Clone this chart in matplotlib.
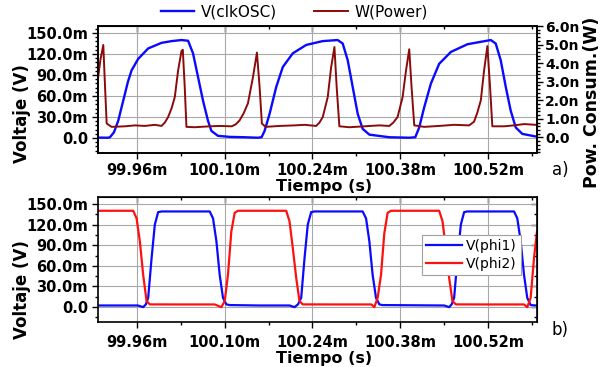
import matplotlib
matplotlib.use('Agg')
import matplotlib.pyplot as plt
from matplotlib.ticker import MultipleLocator

plt.rcParams['font.family'] = 'DejaVu Sans'

# tiempo en ms (las etiquetas llevan el sufijo "m"), voltajes en mV, potencia en nW

# --- a) V(clkOSC) y W(Power)
t_clk = [99.8974, 99.9138, 99.9170, 99.9234, 99.9302, 99.9345, 99.9409, 99.9456,
         99.9515, 99.9620, 99.9780, 99.9993, 100.0156, 100.0311, 100.0416, 100.0495,
         100.0575, 100.0655, 100.0734, 100.0788, 100.0893, 100.1079, 100.1318, 100.1525,
         100.1588, 100.1636, 100.1716, 100.1822, 100.1927, 100.2086, 100.2300, 100.2564,
         100.2802, 100.2882, 100.2962, 100.3041, 100.3121, 100.3200, 100.3307, 100.3625,
         100.3943, 100.4039, 100.4102, 100.4182, 100.4288, 100.4420, 100.4607, 100.4871,
         100.5243, 100.5322, 100.5402, 100.5482, 100.5561, 100.5641, 100.5746, 100.5964]
v_clk = [0.5, 0.3, 1, 8, 24.5, 40, 63, 80,
         96.6, 113, 128, 136, 138.5, 140, 139, 121,
         87, 53, 24.5, 10, 3, 1.5, 1, 0.3,
         1, 10, 34.5, 73, 101.5, 121, 133, 138.5,
         140, 135, 111, 73, 34.5, 13, 4.7, 1,
         0.3, 1, 15, 44, 77.7, 106, 123, 134,
         140, 135, 111, 73, 39, 15, 5.8, 2]

t_pow = [99.8974, 99.9019, 99.9064, 99.9091, 99.9118, 99.9197, 99.9409, 99.9568,
         99.9727, 99.9886, 99.9993, 100.0045, 100.0098, 100.0156, 100.0204, 100.0257,
         100.0311, 100.0332, 100.0363, 100.0390, 100.0522, 100.0761, 100.0920, 100.1111,
         100.1175, 100.1238, 100.1302, 100.1370, 100.1450, 100.1514, 100.1557, 100.1593,
         100.1652, 100.1875, 100.2113, 100.2273, 100.2459, 100.2511, 100.2564, 100.2643,
         100.2697, 100.2750, 100.2786, 100.2829, 100.2989, 100.3227, 100.3466, 100.3625,
         100.3689, 100.3757, 100.3837, 100.3891, 100.3943, 100.3980, 100.4023, 100.4182,
         100.4420, 100.4659, 100.4898, 100.4977, 100.5025, 100.5084, 100.5136, 100.5189,
         100.5232, 100.5268, 100.5455, 100.5614, 100.5773, 100.5964]
p_pow = [3.05, 4.2, 4.98, 2.8, 0.75, 0.57, 0.6, 0.65,
         0.62, 0.68, 0.62, 0.8, 1.1, 1.6, 2.17, 3.6,
         4.66, 4.72, 2.7, 0.57, 0.55, 0.6, 0.62, 0.6,
         0.7, 0.92, 1.3, 1.83, 3.23, 4.57, 2.7, 0.75,
         0.57, 0.62, 0.65, 0.68, 0.62, 0.8, 1.1, 2.17,
         3.77, 4.87, 2.7, 0.6, 0.55, 0.6, 0.65, 0.62,
         0.8, 1.1, 2.17, 3.6, 4.75, 2.7, 0.65, 0.57,
         0.62, 0.68, 0.65, 0.85, 1.3, 1.99, 3.6, 4.92,
         2.7, 0.6, 0.6, 0.65, 0.72, 0.68]

# --- b) V(phi1) y V(phi2)
t_phi1 = [99.8974, 99.9616, 99.9700, 99.9743, 99.9780, 99.9834, 99.9886, 99.9939,
          99.9993, 100.0761, 100.0814, 100.0868, 100.0920, 100.0973, 100.1027, 100.1079,
          100.1557, 100.2034, 100.2113, 100.2169, 100.2220, 100.2273, 100.2325, 100.2379,
          100.2432, 100.3200, 100.3254, 100.3307, 100.3359, 100.3413, 100.3466, 100.3514,
          100.4500, 100.4580, 100.4619, 100.4659, 100.4712, 100.4766, 100.4818, 100.4866,
          100.5614, 100.5666, 100.5720, 100.5773, 100.5825, 100.5879, 100.5964]
v_phi1 = [2.4, 2.4, 0, 4, 13.5, 71, 120, 138,
          139, 139, 129, 95.6, 47, 13.5, 4, 3,
          2.4, 2.4, 0, 4, 13.5, 71, 120, 138,
          139, 139, 129, 95.6, 47, 13.5, 4, 3,
          2.4, 0, 4, 13.5, 71, 120, 138, 139,
          139, 129, 95.6, 47, 13.5, 3, 2.4]

t_phi2 = [99.8974, 99.9541, 99.9595, 99.9647, 99.9700, 99.9754, 99.9807, 100.0284,
          100.0841, 100.0947, 100.1000, 100.1052, 100.1106, 100.1159, 100.1211, 100.1981,
          100.2034, 100.2086, 100.2141, 100.2193, 100.2246, 100.2829, 100.3339, 100.3386,
          100.3439, 100.3493, 100.3545, 100.3598, 100.3652, 100.4420, 100.4473, 100.4527,
          100.4580, 100.4632, 100.4687, 100.5216, 100.5773, 100.5825, 100.5879, 100.5932,
          100.5980]
v_phi2 = [140, 140, 129, 95.6, 47, 8.7, 4, 3.9,
          3.9, 0, 8.7, 47, 110, 137, 140, 140,
          124.6, 86, 42, 8.7, 4, 3.9, 3.9, 0,
          13.5, 47, 107, 137, 140, 140, 125, 86,
          42, 8.7, 4, 3.9, 3.9, 0, 13.5, 71,
          110]

x_ticks = [99.96, 100.10, 100.24, 100.38, 100.52]
x_labels = ['99.96m', '100.10m', '100.24m', '100.38m', '100.52m']
v_ticks = [0, 30, 60, 90, 120, 150]
v_labels = ['0.0', '30.0m', '60.0m', '90.0m', '120.0m', '150.0m']
p_ticks = [0, 1, 2, 3, 4, 5, 6]
p_labels = ['0.0', '1.0n', '2.0n', '3.0n', '4.0n', '5.0n', '6.0n']

BLUE = '#0a0aff'
DRED = '#8b0a0a'
RED = '#ff1010'
GRID = '#a8a8a8'
XLIM = (99.8975, 100.598)

fig = plt.figure(figsize=(6.08, 3.67), dpi=100)
ax1 = fig.add_axes([0.1607, 0.583, 0.7225, 0.346])
ax2 = fig.add_axes([0.1607, 0.1226, 0.7225, 0.3406])


def style_axis(ax, xpad, vminor):
    ax.set_xlim(*XLIM)
    ax.set_ylim(-21.6, 160)
    ax.set_xticks(x_ticks)
    ax.set_xticklabels(x_labels)
    ax.set_yticks(v_ticks)
    ax.set_yticklabels(v_labels)
    ax.xaxis.set_minor_locator(MultipleLocator(0.07))
    ax.yaxis.set_minor_locator(MultipleLocator(vminor))
    ax.grid(True, which='major', color=GRID, lw=0.8)
    ax.set_axisbelow(True)
    ax.tick_params(which='both', direction='out', width=1.0, labelsize=10.5)
    ax.tick_params(which='major', length=4)
    ax.tick_params(which='minor', length=2.2)
    ax.tick_params(axis='x', pad=xpad)
    ax.tick_params(axis='y', pad=3)
    for lab in ax.get_xticklabels() + ax.get_yticklabels():
        lab.set_fontweight('bold')
    for sp in ax.spines.values():
        sp.set_linewidth(1.2)
    top = ax.secondary_xaxis('top')
    top.set_xticks(x_ticks)
    top.set_xticklabels([])
    top.xaxis.set_minor_locator(MultipleLocator(0.07))
    top.tick_params(which='both', direction='in', width=1.0)
    top.tick_params(which='major', length=4)
    top.tick_params(which='minor', length=2.2)


# a)
style_axis(ax1, 3, 6)
l1, = ax1.plot(t_clk, v_clk, color=BLUE, lw=1.7, label='V(clkOSC)')
ax1r = ax1.twinx()
l2, = ax1r.plot(t_pow, p_pow, color=DRED, lw=1.4, label='W(Power)')
ax1r.set_xlim(*XLIM)
ax1r.set_ylim(-0.84, 5.94)
ax1r.set_yticks(p_ticks)
ax1r.set_yticklabels(p_labels)
ax1r.yaxis.set_minor_locator(MultipleLocator(0.2))
ax1r.tick_params(which='both', direction='out', width=1.0, labelsize=10, pad=2)
ax1r.tick_params(which='major', length=4)
ax1r.tick_params(which='minor', length=2.2)
for lab in ax1r.get_yticklabels():
    lab.set_fontweight('bold')
for sp in ax1r.spines.values():
    sp.set_linewidth(1.2)

fig.legend(handles=[l1, l2], loc='center', bbox_to_anchor=(0.484, 0.967), ncol=2,
           frameon=False, fontsize=11, handlelength=2.2, columnspacing=2.4,
           handletextpad=0.45)

# b)
style_axis(ax2, 5, 15)
ax2.plot(t_phi1, v_phi1, color=BLUE, lw=1.6, label='V(phi1)')
ax2.plot(t_phi2, v_phi2, color=RED, lw=1.6, label='V(phi2)')
right = ax2.secondary_yaxis('right')
right.set_yticks(v_ticks)
right.set_yticklabels([])
right.yaxis.set_minor_locator(MultipleLocator(15))
right.tick_params(which='both', direction='in', width=1.0)
right.tick_params(which='major', length=4)
right.tick_params(which='minor', length=2.2)
leg = ax2.legend(loc='upper left', bbox_to_anchor=(0.738, 0.696), fontsize=10,
                 frameon=True, fancybox=False, edgecolor='#a0a0a0', framealpha=1,
                 handlelength=2.6, handletextpad=0.3, borderpad=0.3,
                 labelspacing=0.25, borderaxespad=0)
leg.get_frame().set_linewidth(0.8)

# textos
fig.text(22 / 608, 1 - 114 / 367, 'Voltaje (V)', rotation=90, ha='center', va='center',
         fontsize=12, fontweight='bold')
fig.text(22 / 608, 1 - 290 / 367, 'Voltaje (V)', rotation=90, ha='center', va='center',
         fontsize=12, fontweight='bold')
fig.text(324 / 608, 1 - 186 / 367, 'Tiempo (s)', ha='center', va='center',
         fontsize=11.5, fontweight='bold')
fig.text(324 / 608, 1 - 358 / 367, 'Tiempo (s)', ha='center', va='center',
         fontsize=11.5, fontweight='bold')
fig.text(592 / 608, 1 - 102 / 367, 'Pow. Consum.(W)', rotation=90, ha='center',
         va='center', fontsize=12.5, fontweight='bold')
fig.text(560 / 608, 1 - 170 / 367, 'a)', ha='center', va='center', fontsize=12)
fig.text(560 / 608, 1 - 330 / 367, 'b)', ha='center', va='center', fontsize=12)

fig.savefig('out.png', dpi=100)
